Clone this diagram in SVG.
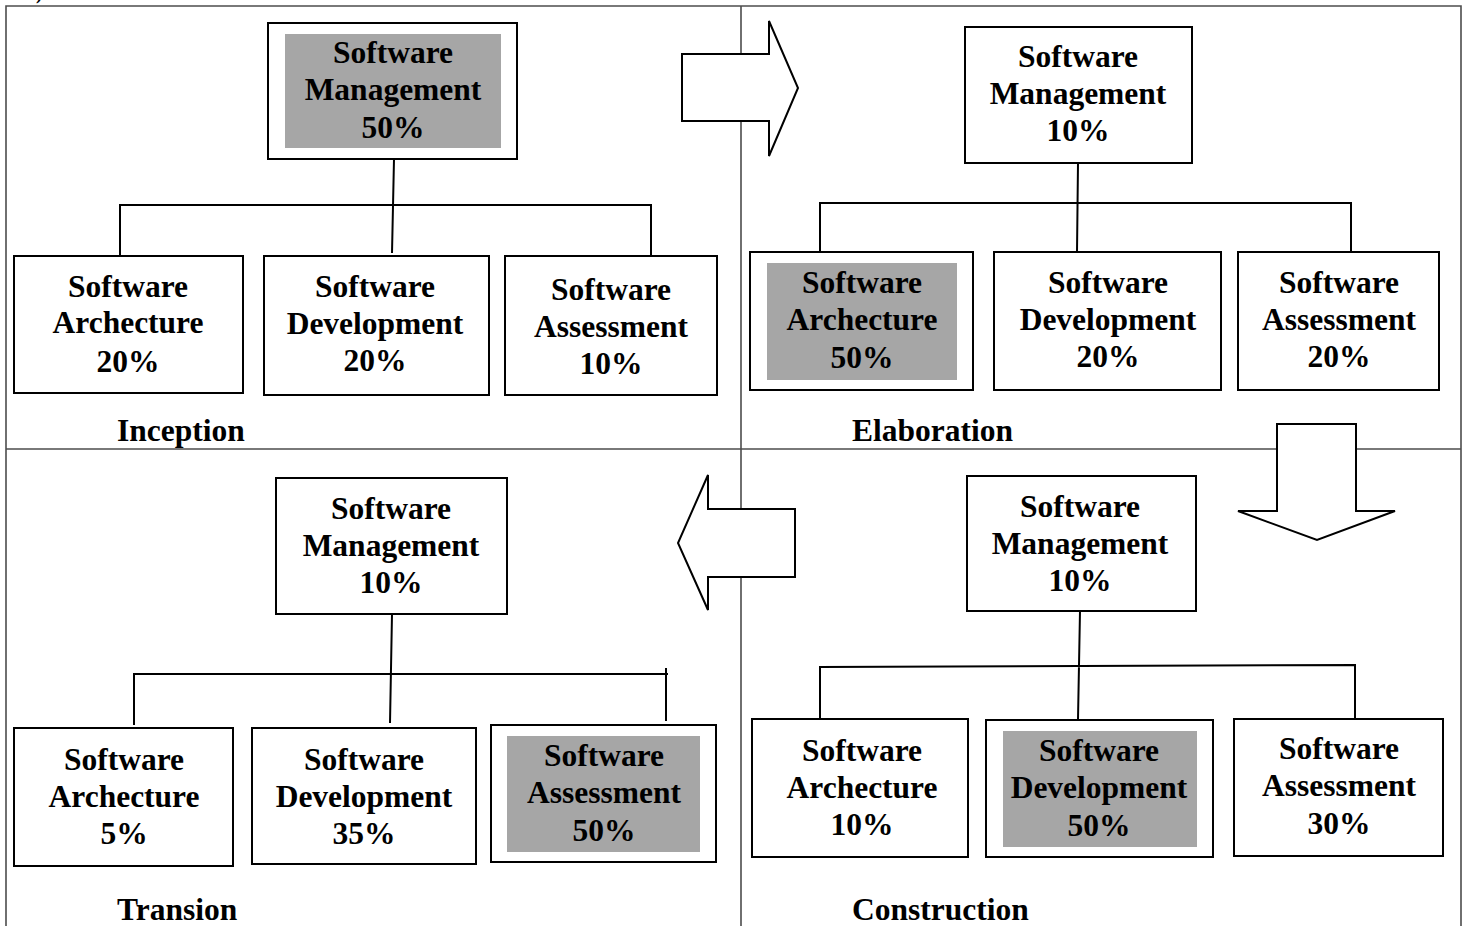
<svg xmlns="http://www.w3.org/2000/svg" width="1463" height="926" viewBox="0 0 1463 926">
  <style>
    .frame { fill: none; stroke: #4d4d4d; stroke-width: 1.6; }
    .box { fill: #ffffff; stroke: #000000; stroke-width: 2; }
    .shade { fill: #a6a6a6; stroke: none; }
    .wire { fill: none; stroke: #000000; stroke-width: 2; }
    .shift { fill: #ffffff; stroke: #000000; stroke-width: 2; stroke-linejoin: miter; }
    text { font-family: "Liberation Serif", "Times New Roman", serif; font-weight: bold; font-size: 31.5px; fill: #000000; }
    .c { text-anchor: middle; }
  </style>

  <rect width="1463" height="926" fill="#ffffff"/>

  <!-- quadrant frame -->
  <g id="frame">
    <text x="26" y="-1" style="font-size:20px">a)</text>
    <path class="frame" d="M6,940 V6 H1461 V940 M741,6 V940 M6,449 H1461"/>
  </g>

  <!-- phase-to-phase block arrows -->
  <g id="arrows">
    <polygon id="arrow-right" class="shift" points="682,54 769,54 769,21 798,88 769,156 769,121 682,121"/>
    <polygon id="arrow-down" class="shift" points="1277,424 1356,424 1356,511 1395,511 1317,540 1238,511 1277,511"/>
    <polygon id="arrow-left" class="shift" points="795,509 708,509 708,475 678,543 708,610 708,577 795,577"/>
  </g>

  <!-- hierarchy connectors -->
  <g id="connectors">
    <path class="wire" d="M120,256 V205 H651 V256 M394,159 L392,253"/>
    <path class="wire" d="M820,252 V203 H1351 V252 M1078,163 L1077,252"/>
    <path class="wire" d="M134,725 V674 H668 M666,668 V721 M392,614 L390,723"/>
    <path class="wire" d="M820,719 V667 L1355,665 V718 M1080,611 L1078,719"/>
  </g>

  <!-- Inception -->
  <g id="inception-mgmt">
    <rect class="box" x="268" y="23" width="249" height="136"/>
    <rect class="shade" x="285" y="34" width="216" height="114"/>
    <text class="c" x="393" y="63">Software</text>
    <text class="c" x="393" y="100">Management</text>
    <text class="c" x="393" y="138">50%</text>
  </g>
  <g id="inception-arch">
    <rect class="box" x="14" y="256" width="229" height="137"/>
    <text class="c" x="128" y="297">Software</text>
    <text class="c" x="128" y="333">Archecture</text>
    <text class="c" x="128" y="372">20%</text>
  </g>
  <g id="inception-dev">
    <rect class="box" x="264" y="256" width="225" height="139"/>
    <text class="c" x="375" y="297">Software</text>
    <text class="c" x="375" y="334">Development</text>
    <text class="c" x="375" y="371">20%</text>
  </g>
  <g id="inception-assess">
    <rect class="box" x="505" y="256" width="212" height="139"/>
    <text class="c" x="611" y="300">Software</text>
    <text class="c" x="611" y="337">Assessment</text>
    <text class="c" x="611" y="374">10%</text>
  </g>
  <text id="label-inception" x="117" y="441">Inception</text>

  <!-- Elaboration -->
  <g id="elaboration-mgmt">
    <rect class="box" x="965" y="27" width="227" height="136"/>
    <text class="c" x="1078" y="67">Software</text>
    <text class="c" x="1078" y="104">Management</text>
    <text class="c" x="1078" y="141">10%</text>
  </g>
  <g id="elaboration-arch">
    <rect class="box" x="750" y="252" width="223" height="138"/>
    <rect class="shade" x="767" y="263" width="190" height="117"/>
    <text class="c" x="862" y="293">Software</text>
    <text class="c" x="862" y="330">Archecture</text>
    <text class="c" x="862" y="368">50%</text>
  </g>
  <g id="elaboration-dev">
    <rect class="box" x="994" y="252" width="227" height="138"/>
    <text class="c" x="1108" y="293">Software</text>
    <text class="c" x="1108" y="330">Development</text>
    <text class="c" x="1108" y="367">20%</text>
  </g>
  <g id="elaboration-assess">
    <rect class="box" x="1238" y="252" width="201" height="138"/>
    <text class="c" x="1339" y="293">Software</text>
    <text class="c" x="1339" y="330">Assessment</text>
    <text class="c" x="1339" y="367">20%</text>
  </g>
  <text id="label-elaboration" x="852" y="441">Elaboration</text>

  <!-- Transition -->
  <g id="transion-mgmt">
    <rect class="box" x="276" y="478" width="231" height="136"/>
    <text class="c" x="391" y="519">Software</text>
    <text class="c" x="391" y="556">Management</text>
    <text class="c" x="391" y="593">10%</text>
  </g>
  <g id="transion-arch">
    <rect class="box" x="14" y="728" width="219" height="138"/>
    <text class="c" x="124" y="770">Software</text>
    <text class="c" x="124" y="807">Archecture</text>
    <text class="c" x="124" y="844">5%</text>
  </g>
  <g id="transion-dev">
    <rect class="box" x="252" y="728" width="224" height="136"/>
    <text class="c" x="364" y="770">Software</text>
    <text class="c" x="364" y="807">Development</text>
    <text class="c" x="364" y="844">35%</text>
  </g>
  <g id="transion-assess">
    <rect class="box" x="491" y="725" width="225" height="137"/>
    <rect class="shade" x="507" y="736" width="193" height="116"/>
    <text class="c" x="604" y="766">Software</text>
    <text class="c" x="604" y="803">Assessment</text>
    <text class="c" x="604" y="841">50%</text>
  </g>
  <text id="label-transion" x="117" y="920">Transion</text>

  <!-- Construction -->
  <g id="construction-mgmt">
    <rect class="box" x="967" y="476" width="229" height="135"/>
    <text class="c" x="1080" y="517">Software</text>
    <text class="c" x="1080" y="554">Management</text>
    <text class="c" x="1080" y="591">10%</text>
  </g>
  <g id="construction-arch">
    <rect class="box" x="752" y="719" width="216" height="138"/>
    <text class="c" x="862" y="761">Software</text>
    <text class="c" x="862" y="798">Archecture</text>
    <text class="c" x="862" y="835">10%</text>
  </g>
  <g id="construction-dev">
    <rect class="box" x="986" y="720" width="227" height="137"/>
    <rect class="shade" x="1003" y="731" width="194" height="116"/>
    <text class="c" x="1099" y="761">Software</text>
    <text class="c" x="1099" y="798">Development</text>
    <text class="c" x="1099" y="836">50%</text>
  </g>
  <g id="construction-assess">
    <rect class="box" x="1234" y="719" width="209" height="137"/>
    <text class="c" x="1339" y="759">Software</text>
    <text class="c" x="1339" y="796">Assessment</text>
    <text class="c" x="1339" y="834">30%</text>
  </g>
  <text id="label-construction" x="852" y="920">Construction</text>
</svg>
